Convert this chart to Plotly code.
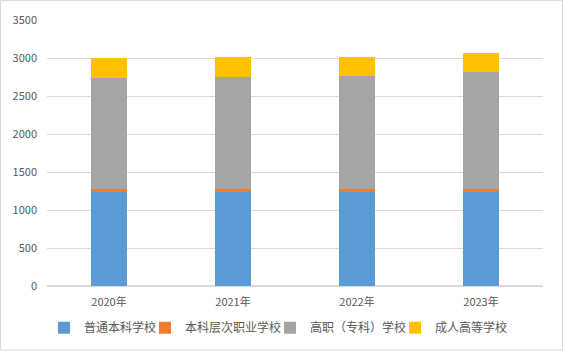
import plotly.graph_objects as go

years = ["2020年", "2021年", "2022年", "2023年"]
undergrad = [1249, 1238, 1239, 1242]
voc_undergrad = [21, 32, 32, 33]
higher_voc = [1468, 1486, 1489, 1545]
adult = [265, 256, 253, 252]

series = [
    ("普通本科学校", undergrad, "#5B9BD5"),
    ("本科层次职业学校", voc_undergrad, "#ED7D31"),
    ("高职（专科）学校", higher_voc, "#A5A5A5"),
    ("成人高等学校", adult, "#FFC000"),
]

W, H = 564, 354
L, R, T, B = 47, 21, 20, 66
pw, ph = W - L - R, H - T - B

def px_x(v):
    return (v - L) / pw

def px_y(v):
    return (H - B - v) / ph

legend_names = ["legend", "legend2", "legend3", "legend4"]
text_starts = [84, 185, 310, 435]

fig = go.Figure()
for (name, vals, col), lg in zip(series, legend_names):
    fig.add_trace(go.Bar(x=years, y=vals, name=name, legend=lg, showlegend=True,
                         marker=dict(color=col, line=dict(width=0))))

legend_common = dict(orientation="h", yanchor="middle", y=px_y(330), xanchor="left",
                     font=dict(size=12, color="#595959"), itemwidth=30,
                     bgcolor="rgba(0,0,0,0)", borderwidth=0, visible=True)
layout_legends = {}
for lg, ts in zip(legend_names, text_starts):
    layout_legends[lg] = dict(legend_common, x=px_x(ts - 40))

fig.update_layout(
    barmode="stack",
    bargap=0.71,
    showlegend=True,
    width=W, height=H,
    margin=dict(l=L, r=R, t=T, b=B),
    paper_bgcolor="white",
    plot_bgcolor="white",
    font=dict(family="Noto Sans CJK SC, Microsoft YaHei, sans-serif", size=11, color="#595959"),
    yaxis=dict(range=[0, 3500], dtick=500, showgrid=True, gridcolor="#D9D9D9", gridwidth=1,
               zeroline=True, zerolinecolor="#D9D9D9", ticks="", ticklabelstandoff=9,
               tickfont=dict(size=11, color="#595959")),
    xaxis=dict(showline=False, ticks="", ticklabelstandoff=8,
               tickfont=dict(size=11, color="#595959")),
    shapes=[dict(type="rect", xref="paper", yref="paper",
                 x0=px_x(0.5), x1=px_x(W - 1.5), y0=px_y(H - 1.5), y1=px_y(0.5),
                 line=dict(color="#D9D9D9", width=1), fillcolor="rgba(0,0,0,0)", layer="above")],
    **layout_legends,
)

fig.write_html("out.html")
